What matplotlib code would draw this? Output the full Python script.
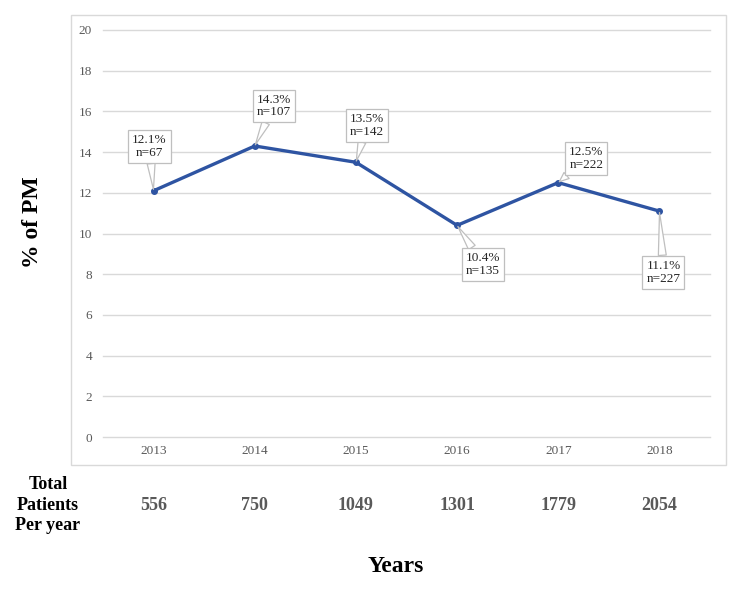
import matplotlib
matplotlib.use("Agg")
import matplotlib.pyplot as plt
import matplotlib.transforms as mtransforms
from matplotlib.patches import Rectangle

plt.rcParams['font.family'] = ['Liberation Serif', 'DejaVu Serif']

years = ['2013', '2014', '2015', '2016', '2017', '2018']
pct_pm = [12.1, 14.3, 13.5, 10.4, 12.5, 11.1]
n_pm = [67, 107, 142, 135, 222, 227]
total_patients = [556, 750, 1049, 1301, 1779, 2054]

# callout box offsets (pixels) from each point
label_offsets = [(-4, 44), (19, 40), (11, 37), (26, -39), (28, 24), (4, -61)]

line_color = '#2E54A2'
grid_color = '#D9D9D9'
tick_color = '#595959'

fig = plt.figure(figsize=(7.4, 5.9), dpi=100)
ax = fig.add_axes([103 / 740, 1 - 437 / 590, 607 / 740, 407 / 590])

x = list(range(len(years)))
ax.plot(x, pct_pm, color=line_color, lw=2.4, marker='o', ms=4,
        mfc=line_color, mec=line_color, zorder=3, solid_joinstyle='round')

for xi, p, n, off in zip(x, pct_pm, n_pm, label_offsets):
    ax.annotate(f'{p}%\nn={n}', xy=(xi, p), xytext=off,
                textcoords='offset pixels', ha='center', va='center',
                fontsize=9.5, color='#262626', linespacing=1.1,
                bbox=dict(boxstyle='square,pad=0.3', fc='white', ec='#BFBFBF', lw=0.9),
                arrowprops=dict(arrowstyle='wedge,tail_width=0.6,shrink_factor=0.5',
                                fc='white', ec='#BFBFBF', lw=0.9,
                                shrinkA=0, shrinkB=1),
                zorder=4)

ax.set_xlim(-0.5, len(years) - 0.5)
ax.set_ylim(0, 20)
ax.set_yticks(range(0, 21, 2))
ax.set_xticks(x)
ax.set_xticklabels(years)
ax.yaxis.grid(True, color=grid_color, lw=1)
for gl in ax.get_ygridlines():
    gl.set_clip_on(False)
ax.set_axisbelow(True)
for s in ax.spines.values():
    s.set_visible(False)
ax.tick_params(axis='both', length=0, labelsize=9.5, labelcolor=tick_color)
ax.tick_params(axis='y', pad=8)
ax.tick_params(axis='x', pad=6)

# outer chart border
fig.patches.append(Rectangle((71 / 740, 1 - 465 / 590), 655 / 740, 450 / 590,
                             transform=fig.transFigure, fill=False,
                             ec=grid_color, lw=1, zorder=0))

fig.text(32 / 740, 1 - 222 / 590, '% of PM', rotation=90, ha='center', va='center',
         fontsize=17, fontweight='bold')

trans = mtransforms.blended_transform_factory(ax.transData, fig.transFigure)
for xi, t in zip(x, total_patients):
    ax.text(xi, 1 - 505 / 590, str(t), transform=trans, ha='center', va='center',
            fontsize=13, fontweight='bold', color=tick_color, clip_on=False)

fig.text(48 / 740, 1 - 505 / 590, 'Total\nPatients\nPer year', ha='center', va='center',
         fontsize=13, fontweight='bold', linespacing=1.3)

fig.text(396 / 740, 1 - 567 / 590, 'Years', ha='center', va='center',
         fontsize=17, fontweight='bold')

fig.savefig('out.png', dpi=100)
